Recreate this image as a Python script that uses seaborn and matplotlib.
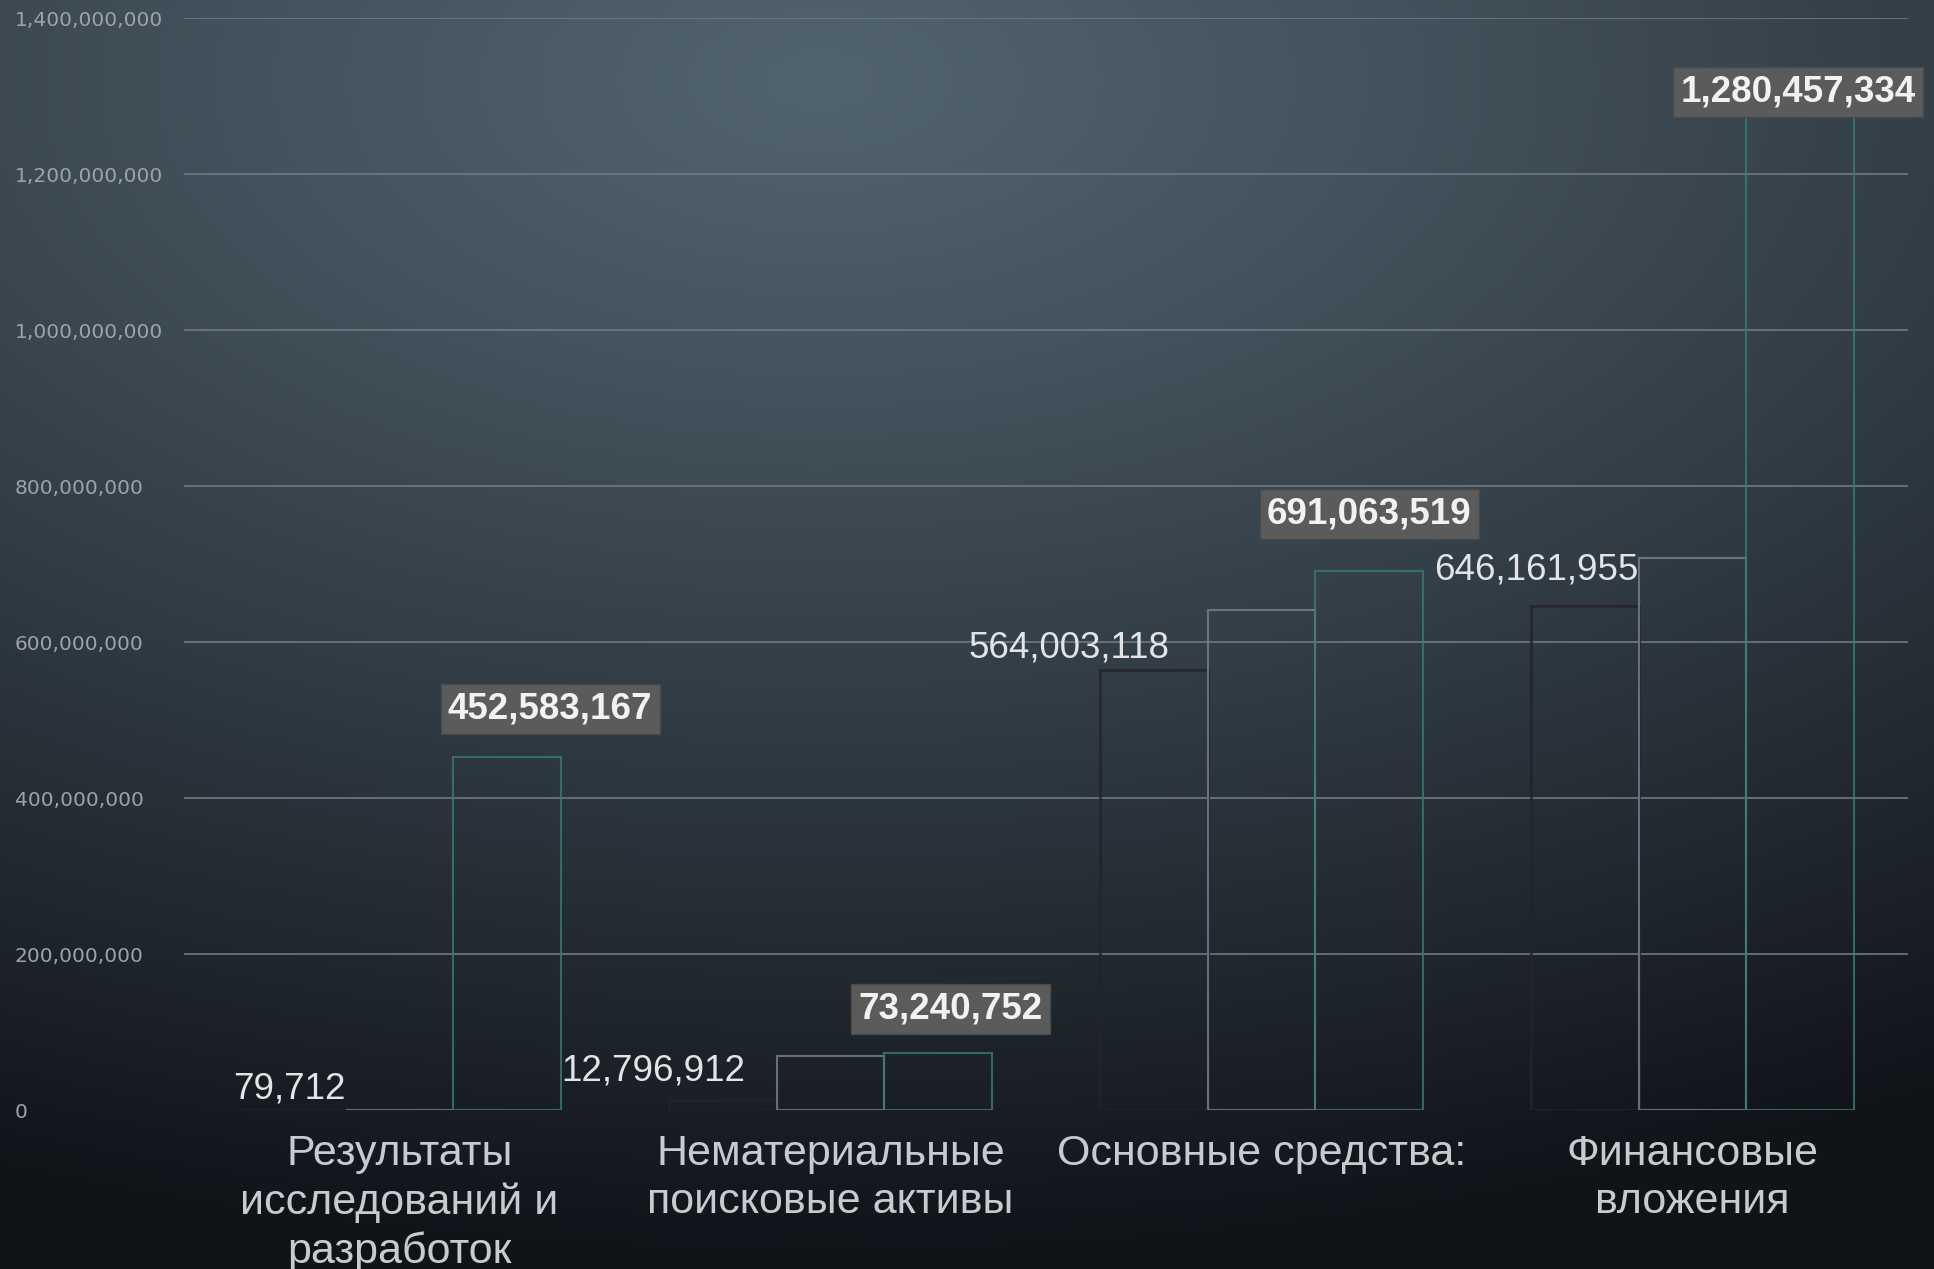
import numpy as np
import pandas as pd
import matplotlib
matplotlib.use("Agg")
import matplotlib.pyplot as plt
import seaborn as sns
from matplotlib.colors import to_rgb

# --- data -------------------------------------------------------------
categories = [
    "Результаты\nисследований и\nразработок",
    "Нематериальные\nпоисковые активы",
    "Основные средства:",
    "Финансовые\nвложения",
]
periods = ["Период 1", "Период 2", "Период 3"]
values_p1 = [79712, 12796912, 564003118, 646161955]
values_p2 = [250000, 69000000, 641000000, 708000000]
values_p3 = [452583167, 73240752, 691063519, 1280457334]

y_ticks = [0, 200e6, 400e6, 600e6, 800e6, 1000e6, 1200e6, 1400e6]
y_tick_labels = ["0", "200,000,000", "400,000,000", "600,000,000",
                 "800,000,000", "1,000,000,000", "1,200,000,000", "1,400,000,000"]

df = pd.DataFrame({
    "category": np.repeat(categories, 3),
    "period": periods * len(categories),
    "value": [v for trio in zip(values_p1, values_p2, values_p3) for v in trio],
})

# --- style ------------------------------------------------------------
sns.set_theme(style="dark")
plt.rcParams["font.family"] = ["Liberation Sans", "DejaVu Sans"]

W, H = 1934, 1269
fig = plt.figure(figsize=(W / 100, H / 100), dpi=100)

# radial backdrop, light near the upper middle, dark at the bottom
bg = fig.add_axes([0, 0, 1, 1])
yy, xx = np.mgrid[0:H, 0:W]
d = np.sqrt(((xx - 820) / 2200.0) ** 2 + ((yy - 80) / 1180.0) ** 2)
d = np.clip(d, 0, 1) ** 1.15
light = np.array(to_rgb("#51636f"))
dark = np.array(to_rgb("#101318"))
img = light[None, None, :] * (1 - d[..., None]) + dark[None, None, :] * d[..., None]
bg.imshow(img, aspect="auto", extent=[0, 1, 0, 1], interpolation="bilinear")
bg.set_axis_off()

ax = fig.add_axes([184 / W, 1 - 1110 / H, (1908 - 184) / W, (1110 - 18) / H])
ax.patch.set_alpha(0)

edge_colors = ["#24232e", "#7b8292", "#3a7d6e"]
sns.barplot(data=df, x="category", y="value", hue="period",
            order=categories, hue_order=periods, palette=edge_colors,
            width=0.75, gap=0, fill=False, errorbar=None, legend=False,
            linewidth=1.5, ax=ax)
for container, lw in zip(ax.containers, [2.2, 1.5, 1.5]):
    for bar in container:
        bar.set_alpha(0.8)
        bar.set_linewidth(lw)

ax.set_xlim(-0.5, 3.5)
ax.set_ylim(0, 1.4e9)
ax.set_xlabel("")
ax.set_ylabel("")
for s in ax.spines.values():
    s.set_visible(False)

ax.set_yticks(y_ticks)
ax.set_yticklabels(y_tick_labels, ha="left", fontfamily="DejaVu Sans",
                   fontsize=14.5, color="#9ca3a9")
ax.tick_params(axis="y", pad=(184 - 15) * 0.72, length=0)
ax.tick_params(axis="x", pad=17, length=0, labelsize=31, labelcolor="#c6cbd0")
for t in ax.get_xticklabels():
    t.set_linespacing(1.27)

ax.yaxis.grid(True, color="#6f7a83", linewidth=1.4, alpha=0.85)
ax.xaxis.grid(False)
ax.get_ygridlines()[0].set_visible(False)
ax.set_axisbelow(True)

# value labels: plain text for the first period, boxed for the last one
plain_offsets = [(-2, 21), (-70, 29), (-85, 22), (-48, 36)]
boxed_offsets = [(43, 48), (12, 44), (0, 57), (-2, 19)]

first_bars = ax.containers[0]
last_bars = ax.containers[2]
for bar, val, (dx, dy) in zip(first_bars, values_p1, plain_offsets):
    x = bar.get_x() + bar.get_width() / 2
    ax.annotate(f"{val:,}", (x, val), xytext=(dx, dy), textcoords="offset pixels",
                ha="center", va="center", fontsize=26.5, color="#e2e4e6",
                annotation_clip=False)
for bar, val, (dx, dy) in zip(last_bars, values_p3, boxed_offsets):
    x = bar.get_x() + bar.get_width() / 2
    ax.annotate(f"{val:,}", (x, val), xytext=(dx, dy), textcoords="offset pixels",
                ha="center", va="center", fontsize=26.5, fontweight="bold",
                color="#f2f2f2", annotation_clip=False,
                bbox=dict(boxstyle="square,pad=0.2", facecolor="#5b5b5c",
                          edgecolor="#4a4a4a", linewidth=1))

fig.savefig("out.png", dpi=100)
